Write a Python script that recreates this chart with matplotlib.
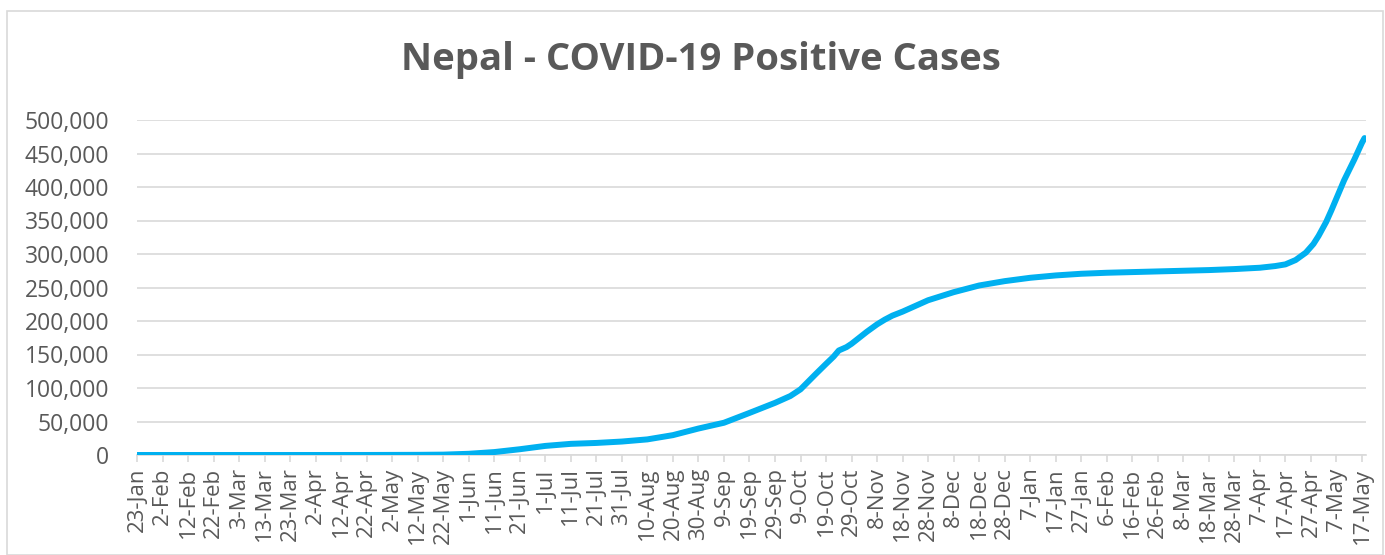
import matplotlib
matplotlib.use("Agg")
import matplotlib.pyplot as plt
from matplotlib.patches import Rectangle
import pandas as pd

# ---- data ----
dates = [
    "2020-01-23", "2020-03-23", "2020-04-22", "2020-05-12", "2020-05-22",
    "2020-06-01", "2020-06-11", "2020-06-21", "2020-07-01", "2020-07-11",
    "2020-07-21", "2020-07-31", "2020-08-10", "2020-08-20", "2020-08-30",
    "2020-09-09", "2020-09-19", "2020-09-29", "2020-10-05", "2020-10-09",
    "2020-10-15", "2020-10-19", "2020-10-22", "2020-10-24", "2020-10-27",
    "2020-10-29", "2020-11-04", "2020-11-08", "2020-11-11", "2020-11-14",
    "2020-11-18", "2020-11-28", "2020-12-08", "2020-12-18", "2020-12-28",
    "2021-01-07", "2021-01-17", "2021-01-27", "2021-02-06", "2021-02-16",
    "2021-02-26", "2021-03-08", "2021-03-18", "2021-03-28", "2021-04-07",
    "2021-04-13", "2021-04-17", "2021-04-21", "2021-04-25", "2021-04-28",
    "2021-04-30", "2021-05-03", "2021-05-05", "2021-05-07", "2021-05-10",
    "2021-05-14", "2021-05-17", "2021-05-18",
]
cases = [
    1, 2, 45, 242, 548,
    1811, 4364, 8605, 13564, 16649,
    17994, 20086, 23310, 29645, 39500,
    48138, 62796, 77817, 88000, 98000,
    121000, 136000, 147000, 156000, 161000,
    166000, 184000, 195000, 202000, 208000,
    214000, 231000, 243000, 253000, 259500,
    264500, 268000, 270500, 272000, 273000,
    274000, 275000, 276000, 277500, 279500,
    282000, 284500, 291000, 302000, 315000,
    327000, 348000, 365000, 383000, 410000,
    441000, 466000, 473000,
]
title = "Nepal - COVID-19 Positive Cases"
tick_start = "2020-01-23"
tick_end = "2021-05-17"
tick_step_days = 10
y_ticks = [0, 50000, 100000, 150000, 200000, 250000, 300000, 350000, 400000, 450000, 500000]

# ---- figure ----
W, H = 1385, 555
fig = plt.figure(figsize=(W / 100, H / 100), dpi=100)
plt.rcParams['font.family'] = ['Open Sans', 'DejaVu Sans']
txt = '#595959'
grid_c = '#D9D9D9'

ax = fig.add_axes([137 / W, (H - 455) / H, (1366 - 137) / W, (455 - 120) / H])

x = pd.to_datetime(dates)
ax.plot(x, cases, color='#00B0F0', linewidth=4.3, solid_capstyle='round',
        solid_joinstyle='round', zorder=3)

ax.set_ylim(0, 500000)
ax.set_yticks(y_ticks)
ax.set_yticklabels([f"{v:,}" for v in y_ticks])
ax.set_xlim(pd.Timestamp("2020-01-23"), pd.Timestamp("2021-05-18 14:00"))

ticks = pd.date_range(tick_start, tick_end, freq=f"{tick_step_days}D")
ax.set_xticks(ticks)
ax.set_xticklabels([f"{d.day}-{d.strftime('%b')}" for d in ticks], rotation=90)

ax.grid(axis='y', color=grid_c, linewidth=1.2, zorder=0)
ax.set_axisbelow(True)
for s in ['top', 'right', 'left']:
    ax.spines[s].set_visible(False)
ax.spines['bottom'].set_color(grid_c)
ax.spines['bottom'].set_linewidth(1.2)

ax.tick_params(axis='y', length=0, pad=20, labelsize=16.5, labelcolor=txt)
ax.tick_params(axis='x', length=5, width=1.2, color=grid_c, pad=4,
               labelsize=16, labelcolor=txt, direction='out')

fig.text(701 / W, 1 - 60 / H, title, ha='center', va='center',
         fontsize=27.5, fontweight='bold', color=txt)

fig.patches.append(Rectangle((7 / W, 0), (1383 - 7) / W, (H - 11) / H,
                             transform=fig.transFigure, fill=False,
                             edgecolor=grid_c, linewidth=1.2))

fig.savefig("out.png", dpi=100)
